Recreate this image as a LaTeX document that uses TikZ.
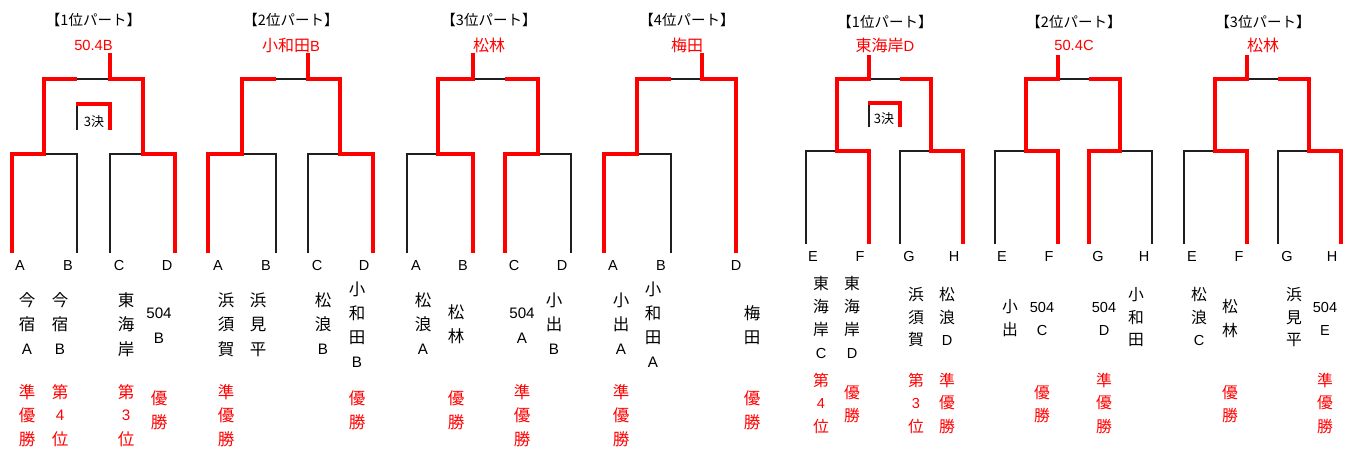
\documentclass[tikz,border=0pt]{standalone}
\usepackage{fontspec}
\setmainfont{Liberation Sans}
\newfontfamily\jp{Noto Sans CJK JP}
\newfontfamily\lat[Scale=0.92]{Liberation Sans}
\newfontfamily\latn{Liberation Sans}
\definecolor{wred}{RGB}{255,0,0}
\newcommand\vcol[6]{%
  \foreach \ch [count=\k from 0] in {#6}{\node[#5] (#1-\k) at (#2,{#3+\k*#4}) {\ch};}}
\begin{document}
\begin{tikzpicture}[x=1pt,y=-1pt,
  blk/.style={line width=1.6pt, black!88, line join=miter},
  rd/.style={line width=3.2pt, wred, line join=miter},
  L/.style={inner sep=0, font=\jp\fontsize{16.5}{17}\selectfont},
  R/.style={inner sep=0, font=\jp\fontsize{15.8}{16}\selectfont},
  LR/.style={L, text=wred},
  RR/.style={R, text=wred},
  lbl/.style={inner sep=0, font=\latn\fontsize{14.5}{14.5}\selectfont},
  ttl/.style={inner sep=0, font=\jp\fontsize{14.5}{14.5}\selectfont},
  win/.style={inner sep=0, text=wred, font=\jp\fontsize{16}{16}\selectfont},
  ketsu/.style={inner sep=0, font=\jp\fontsize{13}{13}\selectfont}]
\useasboundingbox[fill=white] (0,0) rectangle (1347,450);

% ---------- titles and winners ----------
\node[ttl] (t1) at (93.5,20) {【1位パート】};
\node[ttl] (t2) at (291,20) {【2位パート】};
\node[ttl] (t3) at (489,20) {【3位パート】};
\node[ttl] (t4) at (687,20) {【4位パート】};
\node[ttl] (t5) at (885,22) {【1位パート】};
\node[ttl] (t6) at (1074,22) {【2位パート】};
\node[ttl] (t7) at (1263,22) {【3位パート】};
\node[win] (w1) at (93.5,45) {\lat 50.4B};
\node[win] (w2) at (291,45) {小和田{\lat B}};
\node[win] (w3) at (489,45) {松林};
\node[win] (w4) at (687,45) {梅田};
\node[win] (w5) at (885,45) {東海岸{\lat D}};
\node[win] (w6) at (1074,45) {\lat 50.4C};
\node[win] (w7) at (1263,45) {松林};
\node[ketsu] (k1) at (94,122) {3決};
\node[ketsu] (k5) at (884,119) {3決};

% ---------- bracket 1 ----------
\draw[blk] (77,253)--(77,154)--(44,154);
\draw[blk] (110,253)--(110,154)--(143,154);
\draw[blk] (77,79)--(110,79);
\draw[blk] (77,130)--(77,104);
\draw[rd] (12,253)--(12,154)--(44,154)--(44,79)--(77,79);
\draw[rd] (175,253)--(175,154)--(143,154)--(143,79)--(110,79)--(110,53);
\draw[rd] (76.2,104)--(110,104)--(110,130);
% ---------- bracket 2 ----------
\draw[blk] (276,253)--(276,154)--(242,154);
\draw[blk] (308,253)--(308,154)--(340,154);
\draw[blk] (276,79)--(308,79);
\draw[rd] (208,253)--(208,154)--(242,154)--(242,79)--(276,79);
\draw[rd] (373,253)--(373,154)--(340,154)--(340,79)--(308,79)--(308,53);
% ---------- bracket 3 ----------
\draw[blk] (407,253)--(407,154)--(438,154);
\draw[blk] (571,253)--(571,154)--(538,154);
\draw[blk] (473,79)--(505,79);
\draw[rd] (473,253)--(473,154)--(438,154)--(438,79)--(473,79)--(473,53);
\draw[rd] (505,253)--(505,154)--(538,154)--(538,79)--(505,79);
% ---------- bracket 4 ----------
\draw[blk] (671,253)--(671,154)--(637,154);
\draw[blk] (671,79)--(702,79);
\draw[rd] (604,253)--(604,154)--(637,154)--(637,79)--(671,79);
\draw[rd] (736,253)--(736,79)--(702,79)--(702,53);
% ---------- bracket 5 ----------
\draw[blk] (806,244)--(806,151)--(837,151);
\draw[blk] (900,244)--(900,151)--(931,151);
\draw[blk] (869,79)--(900,79);
\draw[blk] (869,127)--(869,103);
\draw[rd] (869,244)--(869,151)--(837,151)--(837,79)--(869,79)--(869,55);
\draw[rd] (963,244)--(963,151)--(931,151)--(931,79)--(900,79);
\draw[rd] (868.2,103)--(900,103)--(900,127);
% ---------- bracket 6 ----------
\draw[blk] (995,244)--(995,151)--(1026,151);
\draw[blk] (1152,244)--(1152,151)--(1120,151);
\draw[blk] (1058,79)--(1089,79);
\draw[rd] (1058,244)--(1058,151)--(1026,151)--(1026,79)--(1058,79)--(1058,55);
\draw[rd] (1089,244)--(1089,151)--(1120,151)--(1120,79)--(1089,79);
% ---------- bracket 7 ----------
\draw[blk] (1184,244)--(1184,151)--(1215,151);
\draw[blk] (1278,244)--(1278,151)--(1309,151);
\draw[blk] (1247,79)--(1278,79);
\draw[rd] (1247,244)--(1247,151)--(1215,151)--(1215,79)--(1247,79)--(1247,55);
\draw[rd] (1341,244)--(1341,151)--(1309,151)--(1309,79)--(1278,79);

% ---------- leaf letters ----------
\foreach \nm/\x/\t in {a1/20/A,b1/68/B,c1/119/C,d1/167/D,a2/218/A,b2/266/B,c2/317/C,d2/364/D,
  a3/416/A,b3/463/B,c3/514/C,d3/562/D,a4/613/A,b4/661/B,d4/736/D}
  \node[lbl] (\nm) at (\x,266) {\t};
\foreach \nm/\x/\t in {e5/813/E,f5/860/F,g5/909/G,h5/954/H,e6/1002/E,f6/1049/F,g6/1098/G,h6/1144/H,
  e7/1192/E,f7/1239/F,g7/1287/G,h7/1332/H}
  \node[lbl] (\nm) at (\x,257) {\t};

% ---------- team names, left group ----------
\vcol{n1a}{27}{300}{24.7}{L}{今,宿,{\lat A}}
\vcol{n1b}{60}{300}{24.7}{L}{今,宿,{\lat B}}
\vcol{n1c}{126}{300}{24.7}{L}{東,海,岸}
\vcol{n1d}{159}{313}{25}{L}{{\lat 504},{\lat B}}
\vcol{n2a}{226}{300}{24.7}{L}{浜,須,賀}
\vcol{n2b}{258}{300}{24.7}{L}{浜,見,平}
\vcol{n2c}{323}{300}{24.7}{L}{松,浪,{\lat B}}
\vcol{n2d}{357}{289}{24.3}{L}{小,和,田,{\lat B}}
\vcol{n3a}{423}{300}{24.7}{L}{松,浪,{\lat A}}
\vcol{n3b}{456}{312}{24.5}{L}{松,林}
\vcol{n3c}{522}{313}{25}{L}{{\lat 504},{\lat A}}
\vcol{n3d}{554}{300}{24.7}{L}{小,出,{\lat B}}
\vcol{n4a}{621}{300}{24.7}{L}{小,出,{\lat A}}
\vcol{n4b}{653}{289}{24.3}{L}{小,和,田,{\lat A}}
\vcol{n4d}{752}{313}{24.5}{L}{梅,田}
% results, left group
\vcol{r1a}{27}{392}{23.7}{LR}{準,優,勝}
\vcol{r1b}{60}{392}{23.7}{LR}{第,{\lat 4},位}
\vcol{r1c}{126}{392}{23.7}{LR}{第,{\lat 3},位}
\vcol{r1d}{159}{398}{24}{LR}{優,勝}
\vcol{r2a}{226}{392}{23.7}{LR}{準,優,勝}
\vcol{r2d}{357}{398}{24}{LR}{優,勝}
\vcol{r3b}{456}{398}{24}{LR}{優,勝}
\vcol{r3c}{522}{392}{23.7}{LR}{準,優,勝}
\vcol{r4a}{621}{392}{23.7}{LR}{準,優,勝}
\vcol{r4d}{752}{398}{24}{LR}{優,勝}

% ---------- team names, right group ----------
\vcol{n5e}{821}{283}{23.4}{R}{東,海,岸,{\lat C}}
\vcol{n5f}{852}{283}{23.4}{R}{東,海,岸,{\lat D}}
\vcol{n5g}{916}{295}{22.5}{R}{浜,須,賀}
\vcol{n5h}{947}{295}{22.5}{R}{松,浪,{\lat D}}
\vcol{n6e}{1010}{307}{23}{R}{小,出}
\vcol{n6f}{1042}{307}{23}{R}{{\lat 504},{\lat C}}
\vcol{n6g}{1104}{307}{23}{R}{{\lat 504},{\lat D}}
\vcol{n6h}{1136}{295}{22.5}{R}{小,和,田}
\vcol{n7e}{1199}{295}{22.5}{R}{松,浪,{\lat C}}
\vcol{n7f}{1230}{307}{23}{R}{松,林}
\vcol{n7g}{1294}{295}{22.5}{R}{浜,見,平}
\vcol{n7h}{1325}{307}{23}{R}{{\lat 504},{\lat E}}
% results, right group
\vcol{r5e}{821}{380}{23}{RR}{第,{\lat 4},位}
\vcol{r5f}{852}{393}{22}{RR}{優,勝}
\vcol{r5g}{916}{380}{23}{RR}{第,{\lat 3},位}
\vcol{r5h}{947}{380}{23}{RR}{準,優,勝}
\vcol{r6f}{1042}{393}{22}{RR}{優,勝}
\vcol{r6g}{1104}{380}{23}{RR}{準,優,勝}
\vcol{r7f}{1230}{393}{22}{RR}{優,勝}
\vcol{r7h}{1325}{380}{23}{RR}{準,優,勝}
\end{tikzpicture}
\end{document}
